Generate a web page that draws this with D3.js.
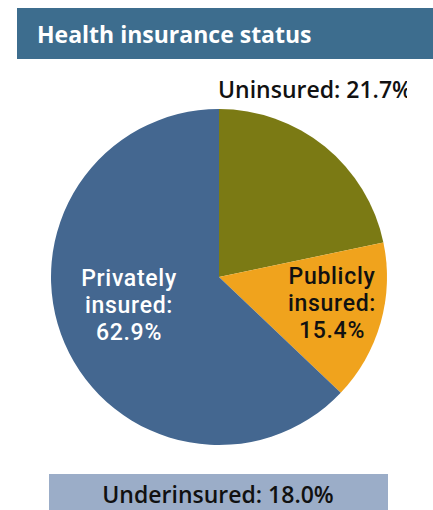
<!DOCTYPE html>
<html>
<head>
<meta charset="utf-8">
<script src="https://cdn.jsdelivr.net/npm/d3@7"></script>
<style>
  html, body { margin: 0; padding: 0; background: #ffffff; }
  svg { display: block; }
  text { font-family: "Open Sans", "Noto Sans", sans-serif; }
  text.inpie { font-family: Roboto, "Open Sans", sans-serif; }
</style>
</head>
<body>
<svg id="chart" width="433" height="510"></svg>
<script>
// Health insurance status shares (percent)
const categories = ["Uninsured", "Publicly insured", "Privately insured"];
const shares = [21.7, 15.4, 62.9];
const sliceColors = ["#7b7a14", "#f0a31d", "#446790"];
const title = "Health insurance status";
const footnoteLabel = "Underinsured";
const footnoteValue = 18.0;

const W = 433, H = 510;
const svg = d3.select("#chart");

// Title banner
svg.append("rect")
  .attr("x", 17).attr("y", 8).attr("width", W - 17).attr("height", 51)
  .attr("fill", "#3d6d8e");
svg.append("text")
  .attr("x", 37).attr("y", 43)
  .attr("fill", "#ffffff")
  .attr("font-size", 23).attr("font-weight", 700)
  .text(title);

// Pie
const cx = 219, cy = 277, r = 168;
const color = d3.scaleOrdinal().domain(categories).range(sliceColors);
const pie = d3.pie().sort(null).value(d => d.value);
const arc = d3.arc().innerRadius(0).outerRadius(r);
const data = categories.map((c, i) => ({ name: c, value: shares[i] }));
const arcs = pie(data);

const g = svg.append("g").attr("transform", `translate(${cx},${cy})`);
g.selectAll("path")
  .data(arcs)
  .join("path")
  .attr("d", arc)
  .attr("fill", d => color(d.data.name));

const fmt = d3.format(".1f");

// Uninsured label sits above the pie, clipped on the right
svg.append("clipPath").attr("id", "clipRight")
  .append("rect").attr("x", 0).attr("y", 0).attr("width", 407).attr("height", H);
svg.append("text")
  .attr("clip-path", "url(#clipRight)")
  .attr("x", 218).attr("y", 98)
  .attr("fill", "#111111")
  .attr("font-size", 23).attr("font-weight", 600)
  .text(`${categories[0]}: ${fmt(shares[0])}%`);

// Multi-line labels inside slices
function inLabel(lines, x, y, fill) {
  lines.forEach((s, i) => {
    svg.append("text")
      .attr("class", "inpie")
      .attr("text-anchor", "middle")
      .attr("fill", fill)
      .attr("font-size", 23).attr("font-weight", 500)
      .attr("letter-spacing", 0.7)
      .attr("x", x).attr("y", y + i * 27)
      .text(s);
  });
}
inLabel(["Publicly", "insured:", `${fmt(shares[1])}%`], 332, 284, "#111111");
inLabel(["Privately", "insured:", `${fmt(shares[2])}%`], 129, 286, "#ffffff");

// Underinsured footnote bar
svg.append("rect")
  .attr("x", 49).attr("y", 474).attr("width", 339).attr("height", H - 474)
  .attr("fill", "#9badc8");
svg.append("text")
  .attr("x", 218).attr("y", 503)
  .attr("text-anchor", "middle")
  .attr("fill", "#111111")
  .attr("font-size", 23).attr("font-weight", 600)
  .text(`${footnoteLabel}: ${fmt(footnoteValue)}%`);
</script>
</body>
</html>
